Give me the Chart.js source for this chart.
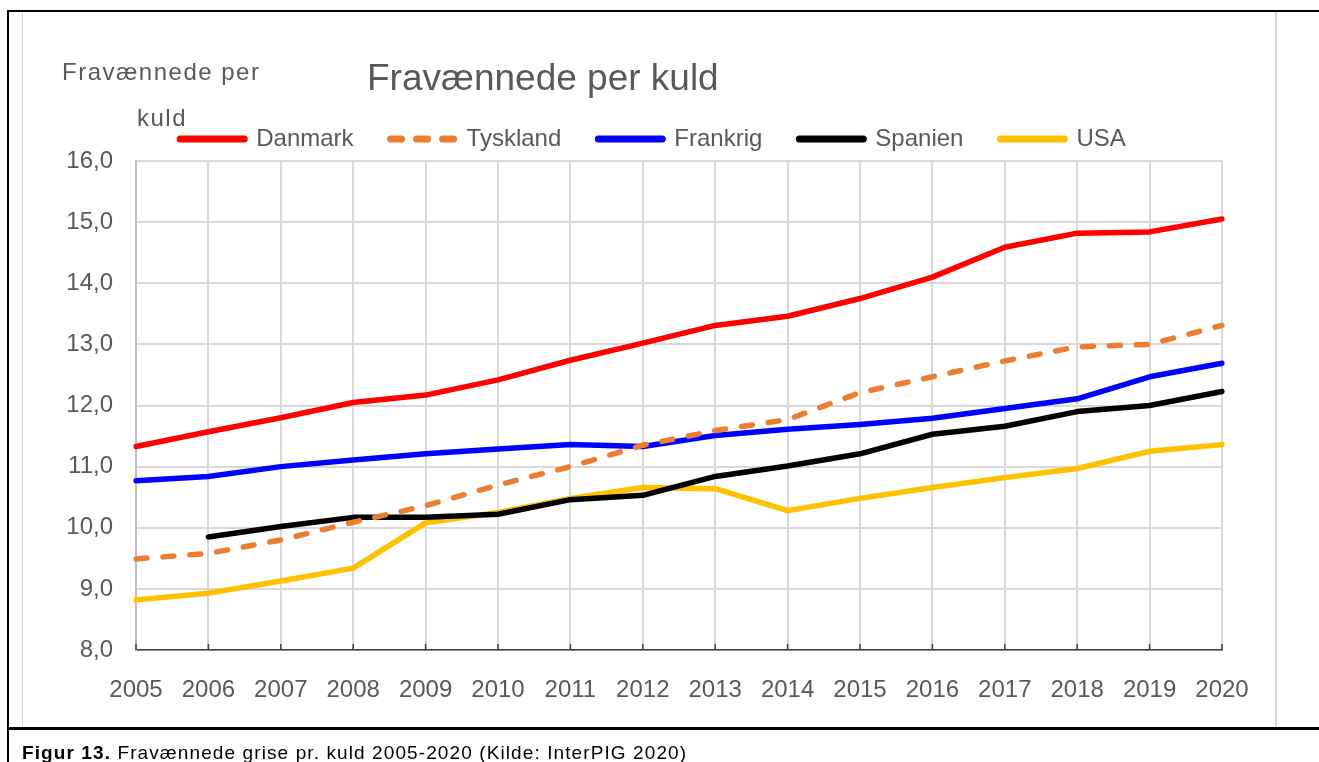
<!DOCTYPE html>
<html>
<head>
<meta charset="utf-8">
<script src="https://cdn.jsdelivr.net/npm/chart.js@4.4.1/dist/chart.umd.min.js"></script>
<style>
  html, body { margin: 0; padding: 0; background: #fff; }
  body { width: 1319px; height: 762px; position: relative; overflow: hidden; font-family: "Liberation Sans", Arial, sans-serif; }
  #wrap { position: absolute; left: 0; top: 0; width: 1319px; height: 762px; }
  .line { position: absolute; background: #000; }
  .gray { position: absolute; background: #d9d9d9; }
  .txt { position: absolute; color: #595959; white-space: nowrap; }
  #caption { position: absolute; left: 22px; top: 743px; font-size: 19px; line-height: 19px; letter-spacing: 1.1px; color: #000; white-space: nowrap; }
</style>
</head>
<body>
<div class="gray" style="left:22px; top:11px; width:1px; height:716px;"></div>
<div class="gray" style="left:1275px; top:11px; width:2px; height:716px;"></div>
<div id="wrap"><canvas id="lineChart"></canvas></div>
<div class="line" style="left:8px; top:10px; width:1311px; height:2px;"></div>
<div class="line" style="left:7px; top:10px; width:2px; height:752px;"></div>
<div class="line" style="left:7px; top:727px; width:1312px; height:3px;"></div>

<div class="txt" style="left:62px; top:58px; font-size:24px; letter-spacing:1.5px;">Fravænnede per</div>
<div class="txt" style="left:137px; top:104px; font-size:24px; letter-spacing:1.5px;">kuld</div>
<div class="txt" style="left:367px; top:57px; font-size:37px;">Fravænnede per kuld</div>
<div id="caption"><b>Figur 13.</b> Fravænnede grise pr. kuld 2005-2020 (Kilde: InterPIG 2020)</div>

<script>
// Fravænnede grise per kuld, 2005-2020

const years = ['2005', '2006', '2007', '2008', '2009', '2010', '2011', '2012',
  '2013', '2014', '2015', '2016', '2017', '2018', '2019', '2020'];

const danmark  = [11.33, 11.57, 11.80, 12.05, 12.17, 12.42, 12.74, 13.02, 13.31, 13.46, 13.75, 14.10, 14.59, 14.82, 14.84, 15.05];
const tyskland = [9.49, 9.58, 9.80, 10.09, 10.36, 10.70, 11.00, 11.35, 11.59, 11.77, 12.21, 12.47, 12.73, 12.96, 13.00, 13.31];
const frankrig = [10.77, 10.84, 11.00, 11.11, 11.21, 11.29, 11.36, 11.33, 11.51, 11.61, 11.69, 11.79, 11.95, 12.11, 12.47, 12.69];
const spanien  = [null, 9.85, 10.02, 10.17, 10.17, 10.22, 10.46, 10.53, 10.84, 11.01, 11.21, 11.53, 11.66, 11.90, 12.00, 12.23];
const usa      = [8.82, 8.93, 9.13, 9.34, 10.08, 10.25, 10.48, 10.66, 10.64, 10.28, 10.48, 10.66, 10.82, 10.97, 11.25, 11.36];

const yTicks = [8, 9, 10, 11, 12, 13, 14, 15, 16];

const textGray = '#595959';
const fontFamily = '"Liberation Sans", Arial, sans-serif';

function series(label, data, color, dash) {
  return {
    label: label,
    data: data,
    borderColor: color,
    backgroundColor: color,
    borderWidth: 5.5,
    borderDash: dash || [],
    borderCapStyle: 'round',
    borderJoinStyle: 'round',
    pointRadius: 0,
    pointHoverRadius: 0,
    tension: 0,
    fill: false
  };
}

// small dark tick marks pointing up from the x axis
const innerTicks = {
  id: 'innerTicks',
  afterDraw(chart) {
    const x = chart.scales.x;
    const ctx = chart.ctx;
    const y0 = chart.chartArea.bottom;
    ctx.save();
    ctx.strokeStyle = '#404040';
    ctx.lineWidth = 1.5;
    for (let i = 0; i < years.length; i++) {
      const px = x.getPixelForTick(i);
      ctx.beginPath();
      ctx.moveTo(px, y0);
      ctx.lineTo(px, y0 - 6);
      ctx.stroke();
    }
    ctx.restore();
  }
};

// legend sits a bit right of the default centre
const legendShift = {
  id: 'legendShift',
  afterLayout(chart) {
    chart.legend.left += 12;
    chart.legend.right += 12;
  }
};

new Chart(document.getElementById('lineChart'), {
  type: 'line',
  data: {
    labels: years,
    datasets: [
      series('Danmark', danmark, '#ff0000'),
      series('Tyskland', tyskland, '#ed7d31', [11, 16]),
      series('Frankrig', frankrig, '#0000ff'),
      series('Spanien', spanien, '#000000'),
      series('USA', usa, '#ffc000')
    ]
  },
  options: {
    responsive: true,
    maintainAspectRatio: false,
    animation: false,
    layout: {
      padding: { top: 90, left: 60, right: 97, bottom: 0 }
    },
    plugins: {
      title: { display: false },
      tooltip: { enabled: false },
      legend: {
        position: 'top',
        align: 'center',
        labels: {
          usePointStyle: true,
          pointStyle: 'line',
          pointStyleWidth: 64,
          padding: 37,
          color: textGray,
          font: { family: fontFamily, size: 24 },
          generateLabels(chart) {
            const items = Chart.defaults.plugins.legend.labels.generateLabels(chart);
            items.forEach(item => {
              const ds = chart.data.datasets[item.datasetIndex];
              item.lineDash = ds.borderDash.length ? [11, 15] : [];
              item.lineCap = 'round';
              item.lineWidth = 7;
            });
            return items;
          }
        }
      }
    },
    scales: {
      x: {
        type: 'category',
        offset: false,
        grid: { color: '#d9d9d9', lineWidth: 2, drawTicks: false, offset: false },
        border: { color: '#404040', width: 1.5 },
        ticks: {
          color: textGray,
          padding: 26,
          maxRotation: 0,
          autoSkip: false,
          font: { family: fontFamily, size: 24 }
        },
        afterFit(scale) { scale.height = 112; }
      },
      y: {
        min: 8,
        max: 16,
        afterBuildTicks(scale) { scale.ticks = yTicks.map(v => ({ value: v })); },
        grid: { color: '#d9d9d9', lineWidth: 2, drawTicks: false },
        border: { color: '#bfbfbf', width: 2 },
        ticks: {
          color: textGray,
          padding: 23,
          font: { family: fontFamily, size: 24 },
          callback: v => v.toFixed(1).replace('.', ',')
        },
        afterFit(scale) { scale.width = 76; }
      }
    }
  },
  plugins: [innerTicks, legendShift]
});
</script>
</body>
</html>
